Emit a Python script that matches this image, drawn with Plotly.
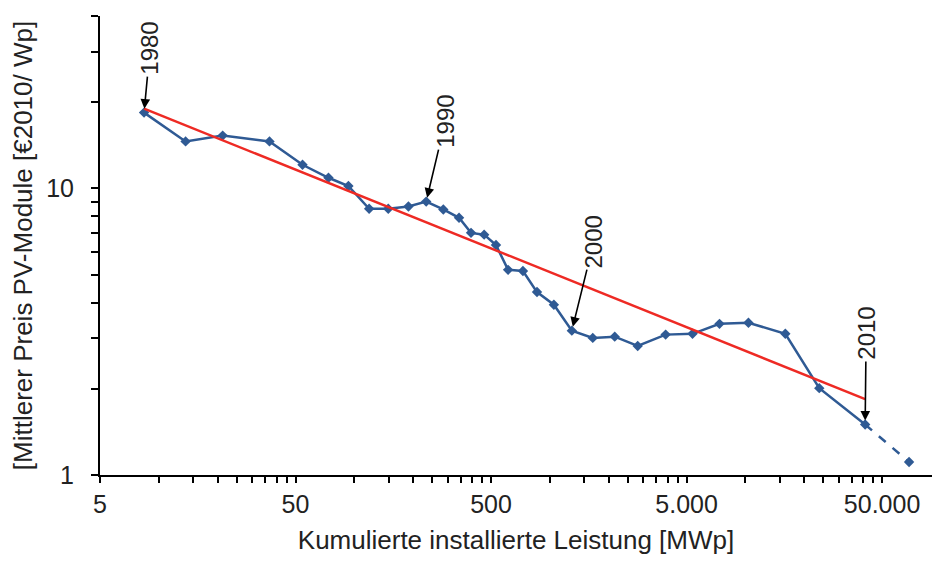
import numpy as np
import plotly.graph_objects as go

# Cumulative installed capacity [MWp] (1980..2010)
capacity = [8.4, 13.7, 21.2, 36.8, 54.3, 73.7, 93.2, 119, 149, 189, 233,
            285, 343, 395, 461, 530, 611, 728, 859, 1048, 1295,
            1657, 2146, 2812, 3908, 5364, 7368, 10360, 16000, 23860, 40960]
# Mean module price [EUR2010/Wp]
price = [18.4, 14.6, 15.3, 14.6, 12.1, 10.9, 10.2, 8.5, 8.5, 8.65, 9.0,
         8.45, 7.9, 7.0, 6.9, 6.35, 5.2, 5.15, 4.35, 3.93, 3.19,
         3.01, 3.04, 2.82, 3.09, 3.11, 3.37, 3.40, 3.11, 2.01, 1.50]
# Projection (dashed)
proj_capacity = [40960, 68700]
proj_price = [1.50, 1.11]
# Learning-curve fit (red)
fit_capacity = [8.4, 40960]
fit_price = [19.0, 1.84]

years = [1980, 1990, 2000, 2010]
year_idx = [0, 10, 20, 30]

x_tick_major = [5, 50, 500, 5000, 50000]
x_tick_labels = ["5", "50", "500", "5.000", "50.000"]
y_tick_major = [1, 10]
y_tick_labels = ["1", "10"]

FONT = "Arial, Liberation Sans, sans-serif"
BLUE = "#2F5A94"
RED = "#EE2A24"
TXT = "#222222"

# tick positions incl. minors
xvals, xtext = [], []
for d, lab in zip(x_tick_major, x_tick_labels):
    xvals.append(d); xtext.append(lab)
    for k in range(2, 10):
        v = d * k
        if v < 90000:
            xvals.append(v); xtext.append("")
yvals, ytext = [], []
for d, lab in zip(y_tick_major, y_tick_labels):
    yvals.append(d); ytext.append(lab)
    for k in range(2, 10):
        v = d * k
        if v <= 40:
            yvals.append(v); ytext.append("")

fig = go.Figure()
fig.add_trace(go.Scatter(x=capacity, y=price, mode="lines+markers",
                         line=dict(color=BLUE, width=2.5),
                         marker=dict(symbol="diamond", size=8, color=BLUE),
                         showlegend=False))
fig.add_trace(go.Scatter(x=proj_capacity, y=proj_price, mode="lines+markers",
                         line=dict(color=BLUE, width=2.5, dash="dash"),
                         marker=dict(symbol="diamond", size=8, color=BLUE,
                                     opacity=[0, 1]),
                         showlegend=False))
fig.add_trace(go.Scatter(x=fit_capacity, y=fit_price, mode="lines",
                         line=dict(color=RED, width=2.5), showlegend=False))

offsets = [(6, -64), (19, -80), (22, -89), (1, -91)]
for yr, i, (ax, ay) in zip(years, year_idx, offsets):
    fig.add_annotation(x=np.log10(capacity[i]), y=np.log10(price[i]),
                       xref="x", yref="y", text=str(yr), textangle=-90,
                       showarrow=True, ax=ax, ay=ay, arrowhead=2,
                       arrowsize=1.2, arrowwidth=1.6, arrowcolor="black",
                       standoff=4,
                       font=dict(family=FONT, size=24, color=TXT))

fig.update_layout(
    width=941, height=562,
    margin=dict(l=90, r=17, t=8, b=95),
    paper_bgcolor="white", plot_bgcolor="white",
    font=dict(family=FONT, color=TXT),
    xaxis=dict(type="log", range=[np.log10(5), np.log10(90000)],
               tickvals=xvals, ticktext=xtext, ticks="outside", ticklen=6,
               tickwidth=1.5, tickcolor="black",
               showline=True, linecolor="black", linewidth=2,
               showgrid=False, zeroline=False,
               tickfont=dict(family=FONT, size=25, color=TXT),
               title=dict(text="Kumulierte installierte Leistung [MWp]",
                          font=dict(family=FONT, size=26, color=TXT),
                          standoff=14)),
    yaxis=dict(type="log", range=[0, np.log10(40)],
               tickvals=yvals, ticktext=ytext, ticks="outside", ticklen=7,
               tickwidth=1.5, tickcolor="black",
               showline=True, linecolor="black", linewidth=2,
               showgrid=False, zeroline=False, ticklabelstandoff=12,
               tickfont=dict(family=FONT, size=25, color=TXT),
               title=dict(text="[Mittlerer Preis PV-Module [€2010/ Wp]",
                          font=dict(family=FONT, size=26, color=TXT),
                          standoff=12)),
)

fig.write_html("out.html")
